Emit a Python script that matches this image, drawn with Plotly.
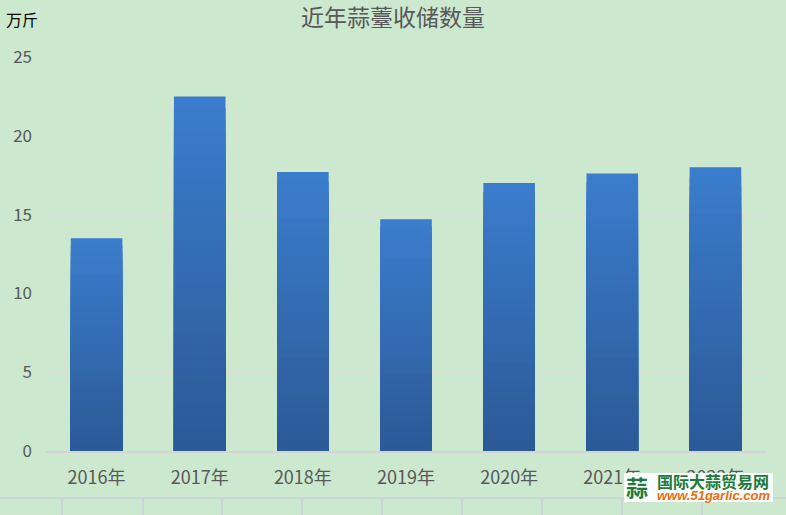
import plotly.graph_objects as go

categories = ["2016年", "2017年", "2018年", "2019年", "2020年", "2021年", "2022年"]
values = [13.5, 22.5, 17.7, 14.7, 17.0, 17.6, 18.0]
y_ticks = [0, 5, 10, 15, 20, 25]

BG = "#CCE8CF"
TOP = (0x3B, 0x7D, 0xCD)
BOT = (0x2B, 0x59, 0x96)
N = 30

W, H = 786, 515
L, R, T, B = 45, 19, 57, 64
PW, PH = W - L - R, H - T - B


def px_x(px):
    return (px - L) / PW


def px_y(py):
    return (H - B - py) / PH


fig = go.Figure()
# gradient: overlapping bars, tallest first (lightest), shorter darker ones on top
for k in range(N):
    frac = (N - k) / N
    t = (N - k - 0.5) / N
    c = tuple(round(BOT[j] + (TOP[j] - BOT[j]) * t) for j in range(3))
    fig.add_trace(go.Bar(
        x=categories,
        y=[v * frac for v in values],
        marker=dict(color="rgb(%d,%d,%d)" % c, line=dict(width=0)),
        width=0.5,
        showlegend=False,
        hoverinfo="skip",
    ))

fig.update_layout(
    barmode="overlay",
    width=W, height=H,
    paper_bgcolor=BG, plot_bgcolor=BG,
    margin=dict(l=L, r=R, t=T, b=B),
    title=dict(text="近年蒜薹收储数量", x=0.5, xanchor="center", y=1 - 18 / H, yanchor="middle",
               font=dict(family="Noto Sans CJK SC", size=23, color="#595959")),
    font=dict(family="Liberation Sans Narrow, Noto Sans CJK SC", color="#595959", size=17),
)
fig.update_xaxes(showgrid=False, showline=True, linecolor="#D4D4D4", linewidth=2,
                 ticks="", ticklabelstandoff=9,
                 tickfont=dict(family="Liberation Sans Narrow, Noto Sans CJK SC", size=18, color="#595959"))
fig.update_yaxes(range=[0, 25], tickvals=y_ticks, showgrid=True, gridcolor="#D8DED6", gridwidth=1,
                 zeroline=False, showline=False, ticks="", ticklabelstandoff=12,
                 tickfont=dict(family="Liberation Sans Narrow, Noto Sans CJK SC", size=17, color="#595959"))

fig.add_annotation(text="万斤", xref="paper", yref="paper", x=px_x(4), y=px_y(19),
                   xanchor="left", yanchor="middle", showarrow=False,
                   font=dict(family="Noto Sans CJK SC", size=16, color="#000000"))

# spreadsheet cell lines at bottom
fig.add_shape(type="line", xref="paper", yref="paper", x0=px_x(0), x1=px_x(W),
              y0=px_y(498), y1=px_y(498), line=dict(color="#C7C3E0", width=1))
for px in [62, 143, 222, 302, 382, 462, 542, 622, 702]:
    fig.add_shape(type="line", xref="paper", yref="paper",
                  x0=px_x(px), x1=px_x(px), y0=px_y(498), y1=px_y(H), line=dict(color="#C7C3E0", width=1))

# watermark
fig.add_shape(type="rect", xref="paper", yref="paper",
              x0=px_x(624), x1=px_x(773), y0=px_y(502), y1=px_y(473),
              fillcolor="rgba(255,255,255,0.92)", line=dict(width=0))
fig.add_annotation(text="<b>蒜</b>", xref="paper", yref="paper", x=px_x(637), y=px_y(486),
                   xanchor="center", yanchor="middle",
                   showarrow=False, font=dict(family="Noto Sans CJK SC", size=22, color="#1E7A3A"))
fig.add_annotation(text="<b>国际大蒜贸易网</b>", xref="paper", yref="paper", x=px_x(655), y=px_y(481),
                   xanchor="left", yanchor="middle",
                   showarrow=False, font=dict(family="Noto Sans CJK SC", size=16, color="#1E7A3A"))
fig.add_annotation(text="<b><i>www.51garlic.com</i></b>", xref="paper", yref="paper", x=px_x(655), y=px_y(495),
                   xanchor="left", yanchor="middle",
                   showarrow=False, font=dict(family="Liberation Sans", size=13, color="#F06A10"))

fig.write_html("out.html", config={"displayModeBar": False},
               post_script="document.body.style.margin='0';document.body.style.padding='0';")
